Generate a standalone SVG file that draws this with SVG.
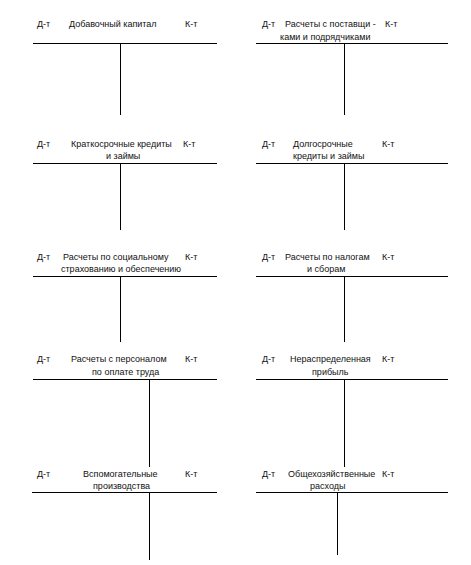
<svg xmlns="http://www.w3.org/2000/svg" width="471" height="565" viewBox="0 0 471 565">
<style>
text{font-family:"Liberation Sans",Arial,sans-serif;font-size:9px;fill:#111}
line{stroke:#000;stroke-width:1}
</style>
<rect width="471" height="565" fill="#fff"/>
<g id="connectors">
<line x1="33" y1="43.5" x2="217" y2="43.5"/><line x1="120.5" y1="43.5" x2="120.5" y2="115"/>
<line x1="256" y1="43.5" x2="448" y2="43.5"/><line x1="344.5" y1="43.5" x2="344.5" y2="115"/>
<line x1="33" y1="163.5" x2="217" y2="163.5"/><line x1="120.5" y1="163.5" x2="120.5" y2="230"/>
<line x1="256" y1="163.5" x2="448" y2="163.5"/><line x1="344.5" y1="163.5" x2="344.5" y2="230"/>
<line x1="33" y1="276.5" x2="217" y2="276.5"/><line x1="120.5" y1="276.5" x2="120.5" y2="342"/>
<line x1="256" y1="276.5" x2="448" y2="276.5"/><line x1="344.5" y1="276.5" x2="344.5" y2="342"/>
<line x1="33" y1="379.5" x2="217" y2="379.5"/><line x1="149.5" y1="379.5" x2="149.5" y2="467"/>
<line x1="256" y1="379.5" x2="448" y2="379.5"/><line x1="344.5" y1="379.5" x2="344.5" y2="467"/>
<line x1="32" y1="492.5" x2="217" y2="492.5"/><line x1="149.5" y1="492.5" x2="149.5" y2="560"/>
<line x1="256" y1="492.5" x2="448" y2="492.5"/><line x1="337.5" y1="492.5" x2="337.5" y2="555"/>
</g>
<g id="n1"><text x="37" y="27">Д-т</text><text x="69" y="27">Добавочный капитал</text><text x="185" y="27">К-т</text></g>
<g id="n2"><text x="262" y="27">Д-т</text><text x="285" y="27">Расчеты с поставщи -</text><text x="385" y="27">К-т</text><text x="280" y="40">ками и подрядчиками</text></g>
<g id="n3"><text x="37" y="147">Д-т</text><text x="71" y="147">Краткосрочные кредиты</text><text x="183" y="147">К-т</text><text x="106" y="159">и займы</text></g>
<g id="n4"><text x="262" y="147">Д-т</text><text x="293" y="147">Долгосрочные</text><text x="382" y="147">К-т</text><text x="293" y="159">кредиты и займы</text></g>
<g id="n5"><text x="37" y="260">Д-т</text><text x="63" y="260">Расчеты по социальному</text><text x="185" y="260">К-т</text><text x="61" y="272">страхованию и обеспечению</text></g>
<g id="n6"><text x="262" y="260">Д-т</text><text x="285" y="260">Расчеты по налогам</text><text x="382" y="260">К-т</text><text x="307" y="272">и сборам</text></g>
<g id="n7"><text x="37" y="362">Д-т</text><text x="71" y="362">Расчеты с персоналом</text><text x="185" y="362">К-т</text><text x="92" y="375">по оплате труда</text></g>
<g id="n8"><text x="262" y="362">Д-т</text><text x="290" y="362">Нераспределенная</text><text x="382" y="362">К-т</text><text x="312" y="375">прибыль</text></g>
<g id="n9"><text x="37" y="477">Д-т</text><text x="83" y="477">Вспомогательные</text><text x="185" y="477">К-т</text><text x="93" y="489">производства</text></g>
<g id="n10"><text x="262" y="477">Д-т</text><text x="288" y="477">Общехозяйственные</text><text x="382" y="477">К-т</text><text x="310" y="489">расходы</text></g>
</svg>
